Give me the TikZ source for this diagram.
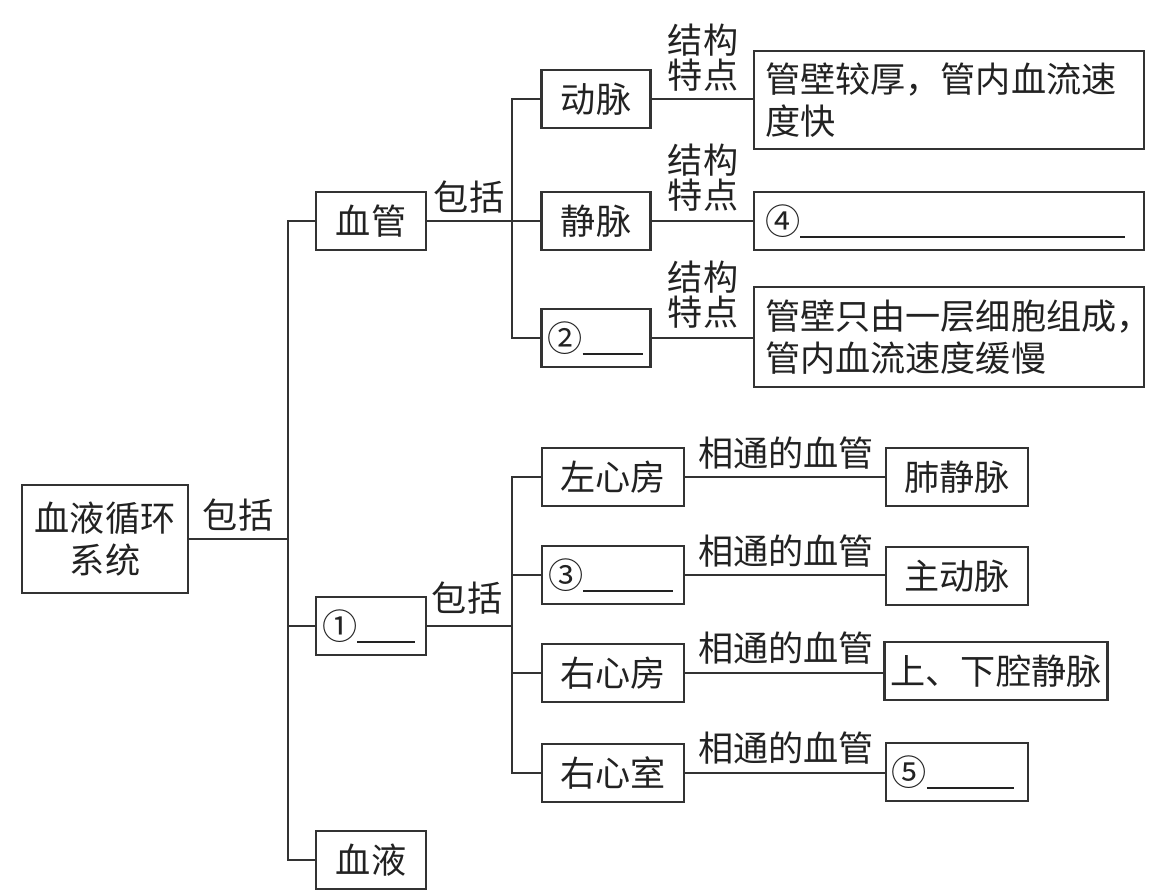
\documentclass[tikz,border=0pt]{standalone}
\usepackage{fontspec}
\newfontfamily\cjkfont{Noto Sans CJK SC}
\usetikzlibrary{positioning}
\definecolor{cline}{HTML}{333333}
\definecolor{ctext}{HTML}{222222}
\tikzset{
  box/.style={draw=cline, line width=1.3pt, minimum height=1.16cm, inner xsep=0.12cm, inner ysep=2pt, align=center, text=ctext},
  lbox/.style={box, text width=#1, align=left},
  lbl/.style={inner sep=0pt, align=center, text=ctext},
  tag/.style={lbl, font=\cjkfont\fontsize{20}{20}\selectfont},
  link/.style={draw=cline, line width=0.8pt},
}
\newcommand{\blank}[1]{\rule[-2pt]{#1}{0.7pt}}

\begin{document}
\begin{tikzpicture}[x=0.02cm, y=-0.02cm, font=\cjkfont\fontsize{20}{24}\selectfont]
  \useasboundingbox (0,0) rectangle (1169,895);

  % Root
  \node[box, minimum width=3.31cm, minimum height=2.15cm] (root) at (105,539) {血液循环\\系统};
  \node[lbl] (inc0) at (238,515) {包括};

  % Second level
  \node[box, minimum width=2.2cm] (xg) at (371,221) {血管};
  \node[lbox=1.96cm] (q1) at (371,626) {①\blank{1.16cm}};
  \node[box, minimum width=2.2cm] (xy) at (371,860) {血液};

  % Vessels
  \node[lbl] (inc1) at (469,197) {包括};
  \node[box, minimum width=2.18cm] (dm) at (596,99) {动脉};
  \node[box, minimum width=2.18cm] (jm) at (596,221) {静脉};
  \node[lbox=1.94cm] (q2) at (596,338) {②\blank{1.2cm}};
  \node[lbox=7.36cm, inner xsep=0.22cm, minimum height=1.96cm] (d1) at (949,100) {管壁较厚，管内血流速\\度快};
  \node[lbox=7.36cm, inner xsep=0.22cm] (d2) at (949,221) {④\blank{6.5cm}};
  \node[lbox=7.36cm, inner xsep=0.22cm, minimum height=2cm] (d3) at (949,337) {管壁只由一层细胞组成\makebox[0.4em][l]{，}\\管内血流速度缓慢};
  \foreach \y/\n in {58/1,178/2,295/3}{
    \node[tag] (tz\n) at (703,\y) {结构\\特点};
  }

  % Heart
  \node[lbl] (inc2) at (467,598) {包括};
  \node[box, minimum width=2.84cm] (zxf) at (613,477) {左心房};
  \node[lbox=2.6cm] (q3) at (613,575) {③\blank{1.8cm}};
  \node[box, minimum width=2.84cm] (yxf) at (613,673) {右心房};
  \node[box, minimum width=2.84cm] (yxs) at (613,773) {右心室};
  \node[box, minimum width=2.85cm] (fjm) at (957,477) {肺静脉};
  \node[box, minimum width=2.85cm] (zdm) at (957,576) {主动脉};
  \node[box, minimum width=4.44cm] (sxq) at (996,671) {上、下腔静脉};
  \node[lbox=2.61cm] (q5) at (957,772) {⑤\blank{1.75cm}};
  \foreach \y/\n in {453/1,551/2,648/3,748/4}{
    \node[lbl] (xt\n) at (786,\y) {相通的血管};
  }

  % Links
  \coordinate (trunk) at (288,0);
  \coordinate (vb) at (512,0);
  \draw[link] (root.east) -- (root.east -| trunk);
  \draw[link] (xg.west) -| (trunk |- xy.west) -- (xy.west);
  \draw[link] (q1.west) -- (q1.west -| trunk);
  \draw[link] (xg.east) -- (jm.west);
  \draw[link] (dm.west) -| (vb |- q2.west) -- (q2.west);
  \foreach \a/\b in {dm/d1, jm/d2, q2/d3}{
    \draw[link] (\a.east) -- (\a.east -| \b.west);
  }
  \draw[link] (q1.east) -- (q1.east -| vb);
  \draw[link] (zxf.west) -| (vb |- yxs.west) -- (yxs.west);
  \foreach \a in {q3, yxf}{
    \draw[link] (\a.west) -- (\a.west -| vb);
  }
  \foreach \a/\b in {zxf/fjm, q3/zdm, yxf/sxq, yxs/q5}{
    \draw[link] (\a.east) -- (\a.east -| \b.west);
  }
\end{tikzpicture}
\end{document}
